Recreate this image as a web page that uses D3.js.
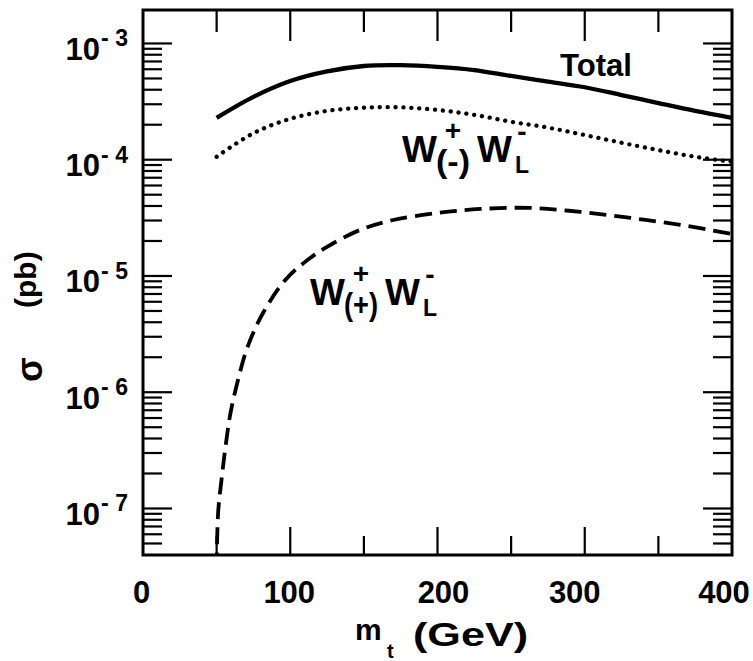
<!DOCTYPE html>
<html><head><meta charset="utf-8">
<script src="https://cdn.jsdelivr.net/npm/d3@7"></script>
<style>
body{margin:0;background:#fff}
svg{display:block}
text{font-family:"Liberation Sans",Arial,Helvetica,sans-serif;font-weight:bold;fill:#000}
</style>
</head><body>
<svg id="c" width="753" height="661"></svg>
<script>
// ---- data ----
const massTotal  = [50, 75, 100, 125, 150, 175, 200, 225, 250, 275, 300, 325, 350, 375, 400];
const sigmaTotal = [2.29e-4, 3.47e-4, 4.75e-4, 5.75e-4, 6.40e-4, 6.50e-4, 6.30e-4, 5.91e-4, 5.25e-4, 4.70e-4, 4.20e-4, 3.60e-4, 3.07e-4, 2.63e-4, 2.29e-4];

const massMinus  = [50, 75, 100, 125, 150, 175, 200, 225, 250, 275, 300, 325, 350, 375, 400];
const sigmaMinus = [1.06e-4, 1.69e-4, 2.25e-4, 2.63e-4, 2.80e-4, 2.82e-4, 2.68e-4, 2.43e-4, 2.12e-4, 1.89e-4, 1.63e-4, 1.40e-4, 1.21e-4, 1.06e-4, 9.6e-5];

const massPlus   = [50, 51, 53.3, 56, 59.4, 64.5, 71, 81.5, 96.5, 109, 125, 147.5, 170, 200, 229, 263, 297, 331, 365, 400];
const sigmaPlus  = [3.0e-8, 9.1e-8, 1.76e-7, 3.38e-7, 6.6e-7, 1.27e-6, 2.45e-6, 4.8e-6, 9.2e-6, 1.29e-5, 1.78e-5, 2.49e-5, 3.03e-5, 3.48e-5, 3.77e-5, 3.85e-5, 3.56e-5, 3.16e-5, 2.75e-5, 2.30e-5];

const xTickMajor = [0, 100, 200, 300, 400];
const xTickMinor = [50, 150, 250, 350];
const yExponents = [-3, -4, -5, -6, -7];

// ---- layout ----
const svg = d3.select("#c");
const x = d3.scaleLinear().domain([0, 400]).range([143, 732]);
const y = d3.scaleLog().domain([3.98e-8, 1.94e-3]).range([555, 10]);
const [x0, x1] = x.range();
const [yb, yt] = y.range();

svg.append("defs").append("clipPath").attr("id", "clip")
  .append("rect").attr("x", x0).attr("y", yt).attr("width", x1 - x0).attr("height", yb - yt);

// ticks
const tg = svg.append("g").attr("stroke", "#000").attr("stroke-width", 2.2);
xTickMajor.filter(v => v > 0 && v < 400).forEach(v => {
  tg.append("line").attr("x1", x(v)).attr("x2", x(v)).attr("y1", yb).attr("y2", yb - 28);
  tg.append("line").attr("x1", x(v)).attr("x2", x(v)).attr("y1", yt).attr("y2", yt + 31);
});
xTickMinor.forEach(v => {
  tg.append("line").attr("x1", x(v)).attr("x2", x(v)).attr("y1", yb).attr("y2", yb - 19);
  tg.append("line").attr("x1", x(v)).attr("x2", x(v)).attr("y1", yt).attr("y2", yt + 22);
});
const [dLo, dHi] = y.domain();
for (let k = -8; k <= -3; k++) {
  for (let m = 1; m <= 9; m++) {
    const v = m * Math.pow(10, k);
    if (v < dLo * 1.02 || v > dHi * 0.98) continue;
    const len = m === 1 ? 29 : 19;
    tg.append("line").attr("x1", x0).attr("x2", x0 + len).attr("y1", y(v)).attr("y2", y(v));
    tg.append("line").attr("x1", x1).attr("x2", x1 - len).attr("y1", y(v)).attr("y2", y(v));
  }
}

// frame
svg.append("rect").attr("x", x0).attr("y", yt).attr("width", x1 - x0).attr("height", yb - yt)
  .attr("fill", "none").attr("stroke", "#000").attr("stroke-width", 3);

// curves
const line = d3.line().x(d => x(d[0])).y(d => y(d[1])).curve(d3.curveCatmullRom.alpha(0.5));
const cg = svg.append("g").attr("clip-path", "url(#clip)").attr("fill", "none").attr("stroke", "#000");
cg.append("path").datum(d3.zip(massTotal, sigmaTotal)).attr("d", line)
  .attr("stroke-width", 4.3);
cg.append("path").datum(d3.zip(massMinus, sigmaMinus)).attr("d", line)
  .attr("stroke-width", 4.3).attr("stroke-linecap", "round").attr("stroke-dasharray", "0.1 7.8");
cg.append("path").datum(d3.zip(massPlus, sigmaPlus)).attr("d", line)
  .attr("stroke-width", 3.8).attr("stroke-dasharray", "17 8");

// x tick labels (small nudges as in the printed figure)
const xLabelNudge = {0: -1.5, 100: -1, 200: 6, 300: -10, 400: -8};
xTickMajor.forEach(v => {
  svg.append("text").attr("x", x(v) + xLabelNudge[v]).attr("y", 603).attr("text-anchor", "middle")
    .attr("font-size", 31).text(v);
});
// y tick labels
yExponents.forEach(e => {
  const py = y(Math.pow(10, e));
  svg.append("text").attr("x", x0 - 43).attr("y", py + 16.5).attr("text-anchor", "end")
    .attr("font-size", 31).text("10");
  svg.append("text").attr("x", x0 - 42).attr("y", py + 3).attr("font-size", 23)
    .attr("textLength", 27).attr("lengthAdjust", "spacing").text("-" + (-e));
});

// axis titles
svg.append("text").attr("x", 355).attr("y", 640).attr("font-size", 30).text("m");
svg.append("text").attr("x", 387).attr("y", 658).attr("font-size", 20).text("t");
svg.append("text").attr("x", 413).attr("y", 646).attr("font-size", 33)
  .attr("textLength", 115).attr("lengthAdjust", "spacingAndGlyphs").text("(GeV)");

svg.append("text").attr("transform", "translate(42,382) rotate(-90)").attr("font-size", 36).text("σ");
svg.append("text").attr("transform", "translate(36,308) rotate(-90)").attr("font-size", 30).text("(pb)");

// curve labels
svg.append("text").attr("x", 560).attr("y", 76).attr("font-size", 32)
  .attr("textLength", 72).attr("lengthAdjust", "spacingAndGlyphs").text("Total");

function wLabel(px, py, inner) {
  svg.append("text").attr("x", px).attr("y", py).attr("font-size", 37).text("W");
  svg.append("text").attr("x", px + 34).attr("y", py + 10).attr("font-size", 32)
    .attr("textLength", 34).attr("lengthAdjust", "spacingAndGlyphs").text(inner);
  svg.append("text").attr("x", px + 51).attr("y", py - 22).attr("text-anchor", "middle").attr("font-size", 28).text("+");
  svg.append("text").attr("x", px + 75).attr("y", py).attr("font-size", 37).text("W");
  svg.append("text").attr("x", px + 113).attr("y", py + 11).attr("font-size", 23).text("L");
  svg.append("text").attr("x", px + 120).attr("y", py - 21).attr("text-anchor", "middle").attr("font-size", 28).text("-");
}
wLabel(402, 162, "(-)");
wLabel(310, 305, "(+)");
</script>
</body></html>
